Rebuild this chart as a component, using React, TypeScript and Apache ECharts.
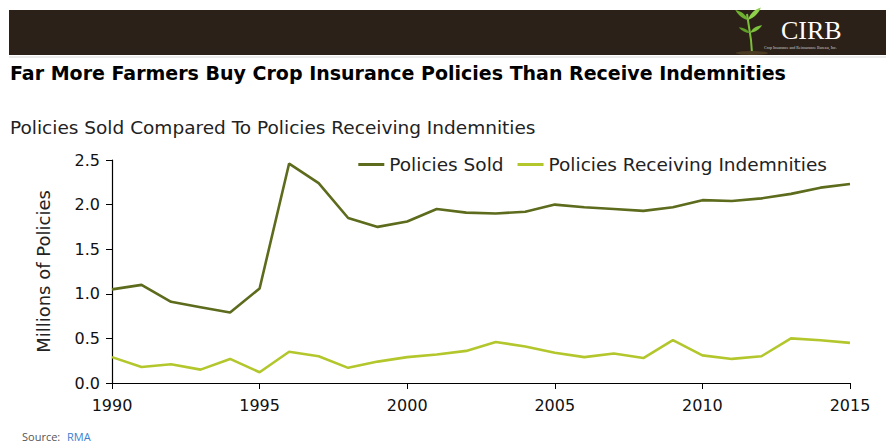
import React, { useEffect, useRef } from "react";
import * as echarts from "echarts";

const years = Array.from({ length: 26 }, (_, i) => String(1990 + i));
const policiesSold = [1.05, 1.1, 0.91, 0.85, 0.79, 1.06, 2.46, 2.24, 1.85, 1.75, 1.81, 1.95, 1.91, 1.9, 1.92, 2.0, 1.97, 1.95, 1.93, 1.97, 2.05, 2.04, 2.07, 2.12, 2.19, 2.23];
const policiesIndemnified = [0.29, 0.18, 0.21, 0.15, 0.27, 0.12, 0.35, 0.3, 0.17, 0.24, 0.29, 0.32, 0.36, 0.46, 0.41, 0.34, 0.29, 0.33, 0.28, 0.48, 0.31, 0.27, 0.3, 0.5, 0.48, 0.45];
const seriesNames = ["Policies Sold", "Policies Receiving Indemnities"];
const yTicks = [0, 0.5, 1, 1.5, 2, 2.5];

const FONT = "'DejaVu Sans', sans-serif";

export default function App() {
  const ref = useRef<HTMLDivElement>(null);
  useEffect(() => {
    if (!ref.current) return;
    const chart = echarts.init(ref.current, null, { renderer: "svg" });
    echarts.graphic.registerShape(
      "leaf",
      echarts.graphic.extendPath("M0 0 C 4 -6 10 -8 16 -8 C 12 -3 6 0 0 0 Z", {})
    );
    chart.setOption({
      animation: false,
      backgroundColor: "#ffffff",
      textStyle: { fontFamily: FONT },
      graphic: [
        { type: "rect", shape: { x: 9, y: 10, width: 877, height: 45 }, style: { fill: "#2b2119" } },
        { type: "line", shape: { x1: 9, y1: 57, x2: 886, y2: 57 }, style: { stroke: "#d8d8d8", lineWidth: 1 } },
        // plant
        { type: "polyline", shape: { points: [[752, 53], [751, 40], [749, 27], [747, 14]] }, style: { stroke: "#7cbf3a", lineWidth: 2, fill: null } },
        { type: "leaf", x: 748, y: 20, scaleX: 1.0, scaleY: 1.0, rotation: 0.3, style: { fill: "#8fd14a" } },
        { type: "leaf", x: 748, y: 20, scaleX: -0.9, scaleY: 0.9, rotation: -0.2, style: { fill: "#6fb030" } },
        { type: "leaf", x: 750, y: 33, scaleX: 0.8, scaleY: 0.8, rotation: 0.1, style: { fill: "#7cc23c" } },
        { type: "leaf", x: 750, y: 33, scaleX: -0.7, scaleY: 0.7, style: { fill: "#5e9e28" } },
        { type: "ellipse", shape: { cx: 752, cy: 53, rx: 16, ry: 2 }, style: { fill: "#4a3a22" } },
        { type: "text", x: 781, y: 17, style: { text: "CIRB", fill: "#ffffff", font: "26px 'Liberation Serif', serif", verticalAlign: "top" } },
        { type: "text", x: 764, y: 45, style: { text: "Crop Insurance and Reinsurance Bureau, Inc.", fill: "#cfcfcf", font: "4px 'Liberation Serif', serif", verticalAlign: "top" } },
        { type: "text", x: 10, y: 63, style: { text: "Far More Farmers Buy Crop Insurance Policies Than Receive Indemnities", fill: "#000000", font: `bold 19px ${FONT}` } },
        { type: "text", x: 10, y: 118, style: { text: "Policies Sold Compared To Policies Receiving Indemnities", fill: "#222222", font: `18.5px ${FONT}` } },
        { type: "text", x: 22, y: 431, style: { text: "Source: ", fill: "#555555", font: "11px 'Open Sans', sans-serif" } },
        { type: "text", x: 67, y: 431, style: { text: "RMA", fill: "#3a7fd0", font: "11px 'Open Sans', sans-serif" } },
      ],
      legend: {
        top: 150,
        right: 62,
        itemWidth: 26,
        itemHeight: 3,
        itemGap: 14,
        icon: "rect",
        textStyle: { fontSize: 18.5, color: "#222", fontFamily: FONT },
        data: seriesNames,
      },
      grid: { left: 112, right: 44, top: 160, bottom: 63 },
      xAxis: {
        type: "category",
        data: years,
        boundaryGap: false,
        axisLine: { lineStyle: { color: "#000", width: 1.2 } },
        axisTick: { length: 6, lineStyle: { color: "#000" }, interval: (i: number) => i % 5 === 0 },
        axisLabel: {
          interval: (i: number) => i % 5 === 0,
          fontSize: 16,
          color: "#111",
          margin: 14,
          fontFamily: FONT,
        },
      },
      yAxis: {
        type: "value",
        min: 0,
        max: 2.5,
        interval: 0.5,
        name: "Millions of Policies",
        nameLocation: "middle",
        nameRotate: 90,
        nameGap: 60,
        nameTextStyle: { fontSize: 18, color: "#222", fontFamily: FONT },
        axisLine: { show: true, lineStyle: { color: "#000", width: 1.2 } },
        axisTick: { show: true, length: 6, lineStyle: { color: "#000" } },
        splitLine: { show: false },
        axisLabel: {
          fontSize: 16,
          color: "#111",
          margin: 12,
          fontFamily: FONT,
          formatter: (v: number) => yTicks.includes(v) ? v.toFixed(1) : "",
        },
      },
      series: [
        {
          name: seriesNames[0],
          type: "line",
          data: policiesSold,
          showSymbol: false,
          symbol: "none",
          lineStyle: { color: "#5c6b1c", width: 2.6 },
          itemStyle: { color: "#5c6b1c" },
        },
        {
          name: seriesNames[1],
          type: "line",
          data: policiesIndemnified,
          showSymbol: false,
          symbol: "none",
          lineStyle: { color: "#b3c72c", width: 2.6 },
          itemStyle: { color: "#b3c72c" },
        },
      ],
    });
    return () => chart.dispose();
  }, []);
  return <div ref={ref} style={{ position: "fixed", left: 0, top: 0, width: 894, height: 446 }} />;
}
